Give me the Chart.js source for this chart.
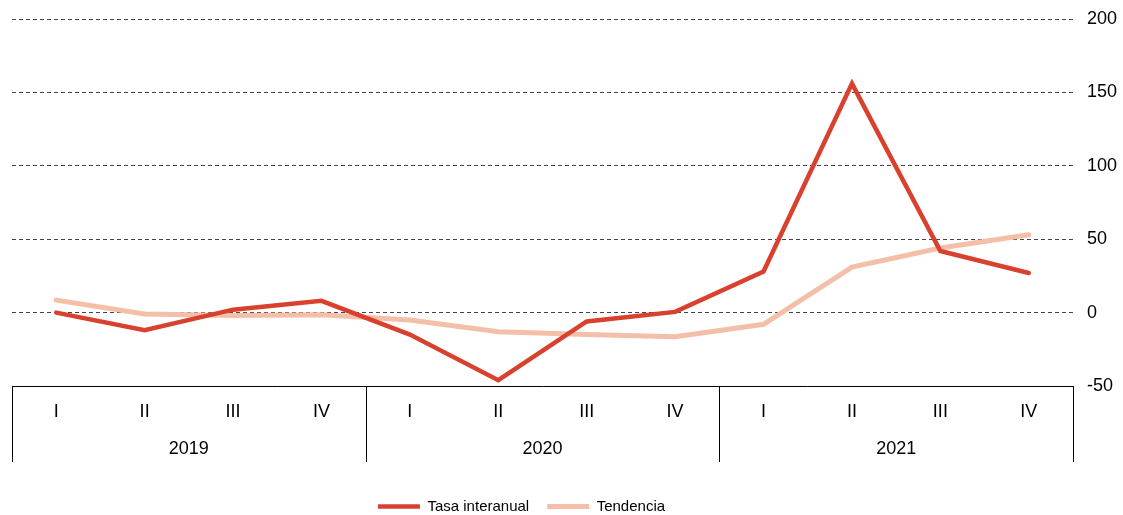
<!DOCTYPE html>
<html>
<head>
<meta charset="utf-8">
<script src="https://cdn.jsdelivr.net/npm/chart.js@4/dist/chart.umd.min.js"></script>
<style>
  body { margin: 0; background: #fff; }
  #wrap { width: 1123px; height: 515px; position: relative; }
</style>
</head>
<body>
<div id="wrap"><canvas id="chart"></canvas></div>
<script>
const quarters = ['I', 'II', 'III', 'IV', 'I', 'II', 'III', 'IV', 'I', 'II', 'III', 'IV'];
const years = ['2019', '2020', '2021'];
const tasaInteranual = [0, -12, 2, 8, -15, -46, -6, 0.5, 28, 156, 42, 27];
const tendencia = [8.5, -1, -2, -1.5, -5, -13, -15, -16.5, -8, 31, 44, 53];

const FONT = "'Liberation Sans', Arial, sans-serif";

// boxed two-level category axis under the plot
const axisBox = {
    id: 'axisBox',
    afterLayout(chart) {
        // nudge the legend to where the original sits
        const lg = chart.legend;
        lg.top += 9; lg.bottom += 9;
        lg.left -= 21; lg.right -= 21;
    },
    afterDraw(chart) {
        const ctx = chart.ctx;
        const x = chart.scales.x;
        const x2 = chart.scales.x2;
        const area = chart.chartArea;
        const bottom = x2.top + 40;
        ctx.save();
        ctx.strokeStyle = '#000';
        ctx.lineWidth = 1;
        ctx.beginPath();
        ctx.moveTo(area.left, Math.round(area.bottom) + 0.5);
        ctx.lineTo(area.right, Math.round(area.bottom) + 0.5);
        const seps = [area.left, x.getPixelForValue(3.5), x.getPixelForValue(7.5), area.right];
        seps.forEach(px => {
            const p = Math.round(px) + 0.5;
            ctx.moveTo(p, area.bottom);
            ctx.lineTo(p, bottom);
        });
        ctx.stroke();
        ctx.restore();
    }
};

new Chart(document.getElementById('chart'), {
    type: 'line',
    data: {
        labels: quarters,
        datasets: [{
            label: 'Tasa interanual',
            data: tasaInteranual,
            borderColor: '#d9412f',
            backgroundColor: '#d9412f',
            borderWidth: 4.5,
            borderCapStyle: 'round',
            pointRadius: 0,
            tension: 0
        }, {
            label: 'Tendencia',
            data: tendencia,
            borderColor: '#f4bfa8',
            backgroundColor: '#f4bfa8',
            borderWidth: 5,
            borderCapStyle: 'round',
            pointRadius: 0,
            tension: 0
        }]
    },
    options: {
        responsive: true,
        maintainAspectRatio: false,
        animation: false,
        layout: {
            padding: { left: 12, right: 0, top: 19, bottom: 0 }
        },
        plugins: {
            tooltip: { enabled: false },
            legend: {
                position: 'bottom',
                fullSize: false,
                labels: {
                    color: '#000',
                    font: { family: FONT, size: 15 },
                    usePointStyle: true,
                    pointStyle: 'line',
                    pointStyleWidth: 42,
                    padding: 18
                }
            }
        },
        scales: {
            x: {
                offset: true,
                grid: { display: false, drawTicks: false },
                border: { display: false },
                ticks: {
                    color: '#000',
                    font: { family: FONT, size: 18 },
                    padding: 15,
                    maxRotation: 0,
                    autoSkip: false
                },
                afterFit: s => { s.height = 36; }
            },
            x2: {
                type: 'category',
                labels: years,
                offset: true,
                position: 'bottom',
                grid: { display: false, drawTicks: false },
                border: { display: false },
                ticks: {
                    color: '#000',
                    font: { family: FONT, size: 18 },
                    padding: 16,
                    maxRotation: 0
                },
                afterFit: s => { s.height = 50; }
            },
            y: {
                position: 'right',
                min: -50,
                max: 200,
                border: { display: false, dash: [4, 3] },
                grid: {
                    color: ctx => ctx.tick.value === -50 ? 'rgba(0,0,0,0)' : '#444',
                    lineWidth: 1,
                    drawTicks: false
                },
                ticks: {
                    stepSize: 50,
                    color: '#000',
                    font: { family: FONT, size: 18 },
                    padding: 14
                },
                afterFit: s => {
                    s.width = 50;
                    s.paddingTop = 0;
                    s.paddingBottom = 0;
                }
            }
        }
    },
    plugins: [axisBox]
});
</script>
</body>
</html>
